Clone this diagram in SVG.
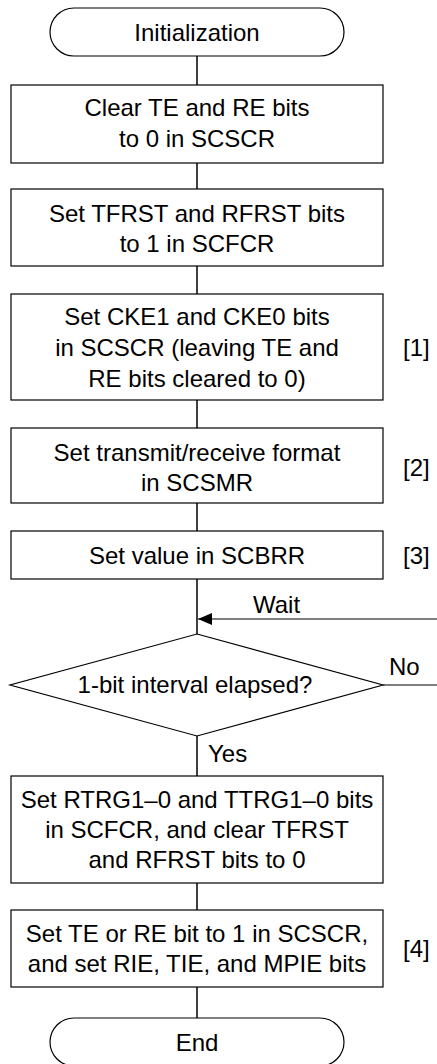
<svg xmlns="http://www.w3.org/2000/svg" width="437" height="1064" viewBox="0 0 437 1064">
<style>
.t{font-family:"Liberation Sans",Arial,Helvetica,sans-serif;font-size:24px;fill:#000;text-anchor:middle}
.l{font-family:"Liberation Sans",Arial,Helvetica,sans-serif;font-size:24px;fill:#000}
.b{fill:#fff;stroke:#000;stroke-width:1.2}
.c{fill:none;stroke:#404040;stroke-width:2}
.h{fill:none;stroke:#000;stroke-width:1.2}
</style>
<defs>
<marker id="ah" markerWidth="14" markerHeight="12" refX="14" refY="6" orient="auto" markerUnits="userSpaceOnUse">
<path d="M0,0 L14,6 L0,12 Z" fill="#000"/>
</marker>
</defs>
<g id="connectors">
<line class="c" x1="197" y1="56" x2="197" y2="85"/>
<line class="c" x1="197" y1="163" x2="197" y2="189"/>
<line class="c" x1="197" y1="266" x2="197" y2="294"/>
<line class="c" x1="197" y1="400" x2="197" y2="428"/>
<line class="c" x1="197" y1="503" x2="197" y2="531"/>
<line class="c" x1="197" y1="579" x2="197" y2="634"/>
<line class="c" x1="197" y1="736" x2="197" y2="776"/>
<line class="c" x1="197" y1="883" x2="197" y2="910"/>
<line class="c" x1="197" y1="987" x2="197" y2="1018"/>
<line class="h" x1="437" y1="619" x2="198" y2="619" marker-end="url(#ah)"/>
<line class="h" x1="383" y1="685" x2="437" y2="685"/>
<text class="l" x="253" y="613">Wait</text>
<text class="l" x="389" y="675">No</text>
<text class="l" x="208" y="762">Yes</text>
</g>
<g id="start">
<rect class="b" x="50" y="8" width="294" height="48" rx="24" ry="24"/>
<text class="t" x="197" y="41">Initialization</text>
</g>
<g id="step1">
<rect class="b" x="11" y="85" width="372" height="78"/>
<text class="t" x="197" y="116">Clear TE and RE bits</text>
<text class="t" x="197" y="147">to 0 in SCSCR</text>
</g>
<g id="step2">
<rect class="b" x="11" y="189" width="372" height="77"/>
<text class="t" x="197" y="222">Set TFRST and RFRST bits</text>
<text class="t" x="197" y="252">to 1 in SCFCR</text>
</g>
<g id="step3">
<rect class="b" x="11" y="294" width="372" height="106"/>
<text class="t" x="197" y="325">Set CKE1 and CKE0 bits</text>
<text class="t" x="197" y="356">in SCSCR (leaving TE and</text>
<text class="t" x="197" y="387">RE bits cleared to 0)</text>
<text class="l" x="403" y="356">[1]</text>
</g>
<g id="step4">
<rect class="b" x="11" y="428" width="372" height="75"/>
<text class="t" x="197" y="461">Set transmit/receive format</text>
<text class="t" x="197" y="491">in SCSMR</text>
<text class="l" x="403" y="476">[2]</text>
</g>
<g id="step5">
<rect class="b" x="11" y="531" width="372" height="48"/>
<text class="t" x="197" y="564">Set value in SCBRR</text>
<text class="l" x="403" y="564">[3]</text>
</g>
<g id="decision">
<polygon class="b" points="197,634 383,685 197,736 10,685"/>
<text class="t" x="195" y="693">1-bit interval elapsed?</text>
</g>
<g id="step6">
<rect class="b" x="11" y="776" width="372" height="107"/>
<text class="t" x="197" y="808">Set RTRG1–0 and TTRG1–0 bits</text>
<text class="t" x="197" y="838">in SCFCR, and clear TFRST</text>
<text class="t" x="197" y="868">and RFRST bits to 0</text>
</g>
<g id="step7">
<rect class="b" x="11" y="910" width="372" height="77"/>
<text class="t" x="197" y="942">Set TE or RE bit to 1 in SCSCR,</text>
<text class="t" x="197" y="972">and set RIE, TIE, and MPIE bits</text>
<text class="l" x="403" y="957">[4]</text>
</g>
<g id="end">
<rect class="b" x="50" y="1018" width="294" height="48" rx="24" ry="24"/>
<text class="t" x="197" y="1051">End</text>
</g>
</svg>
